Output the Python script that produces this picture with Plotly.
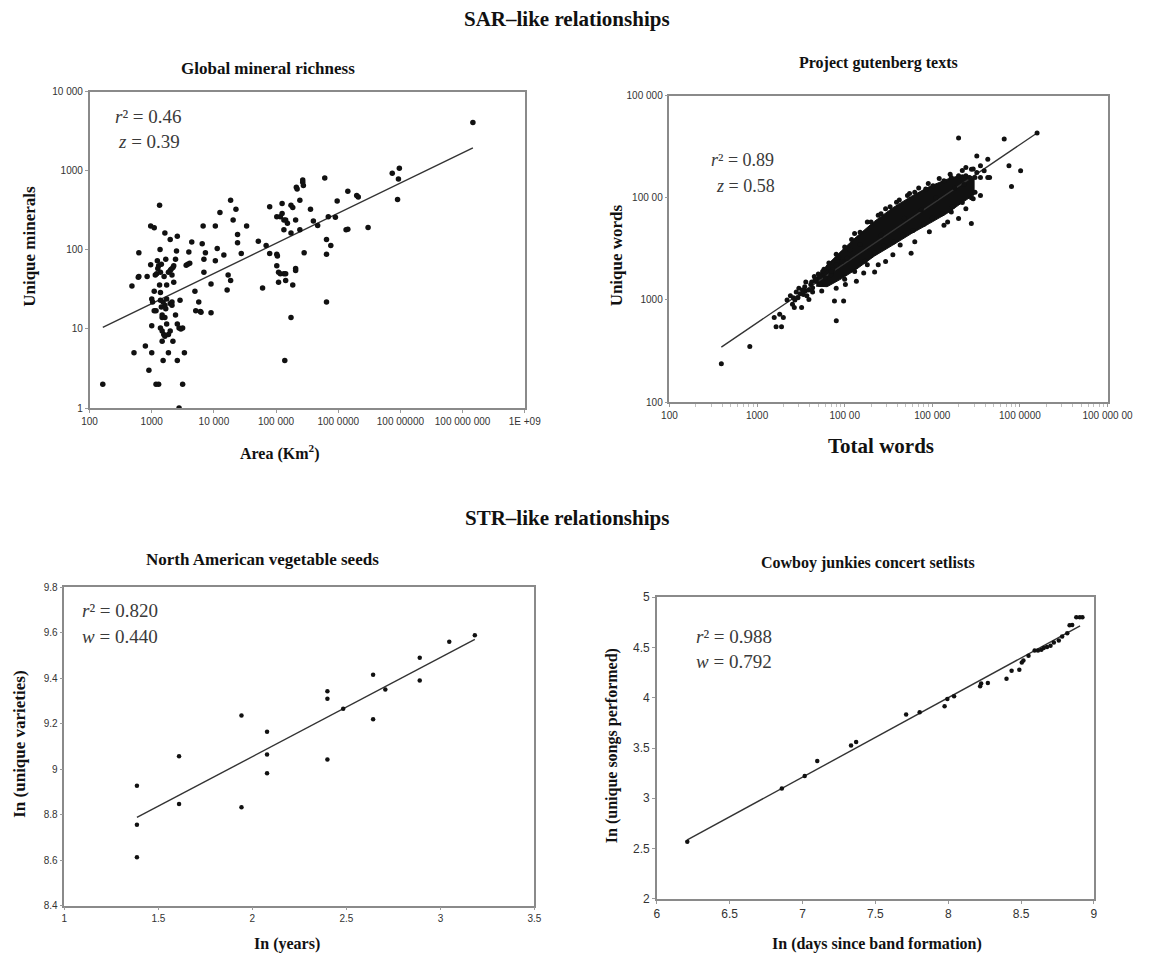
import plotly.graph_objects as go

W, H = 1150, 959

# ---------------- Panel 1: Global mineral richness ----------------
mineral_area = [
    163, 480, 518, 607, 620, 620, 789, 843, 900, 961,
    1096, 961, 1000, 1000, 1000, 1030, 1096, 1096, 1171, 1140,
    1200, 1171, 1290, 1230, 1336, 1360, 1290, 1426, 1336, 1380,
    1426, 1470, 1470, 1380, 1470, 1560, 1626, 1523, 1626, 1626,
    1680, 1680, 1737, 1855, 1981, 1981, 2050, 2190, 2259, 1981,
    2115, 2259, 2190, 2500, 2413, 2576, 2576, 2751, 2938, 2576,
    2751, 2850, 3138, 3350, 3579, 3800, 4082, 3950, 4400, 4950,
    5100, 5700, 6055, 6200, 6480, 6700, 7300, 6906, 6906, 8983,
    8983, 10540, 11300, 10540, 12500, 14450, 16300, 16930, 18560, 18560,
    20360, 22610, 24000, 24000, 27540, 33560, 51790, 60650, 69180, 78890,
    78890, 102600, 105000, 102600, 109600, 117100, 133600, 109600, 102600, 117100,
    125000, 125000, 133600, 133600, 138000, 142600, 142600, 152300, 142600, 173700,
    185500, 173700, 173700, 185500, 206200, 206200, 206200, 211800, 218000, 241300,
    241300, 268300, 268300, 275000, 282700, 357900, 398100, 466600, 606600, 647400,
    647400, 647400, 691800, 758600, 899800, 961000, 1336000, 1426000, 1426000, 1982000,
    2100000, 3020000, 7393000, 8995000, 9300000, 9616000, 146600000, 1250, 1380, 1580,
    1855, 2115, 1380, 1523, 1737, 1626, 1737, 1855, 1981, 1470,
    2115, 2413, 3138,
]
mineral_count = [
    2.0, 35, 5, 45, 46, 92, 6.1, 46, 3.0, 200,
    190, 65, 5, 11, 24, 22, 30, 17, 17, 48,
    50, 2.0, 2.0, 73, 367, 101, 63, 66, 36, 29,
    19, 15, 14, 10.3, 9.4, 8.5, 8.1, 4.0, 163, 20,
    18, 76, 36, 5.0, 135, 55, 57, 60, 63, 21,
    22, 39, 7.0, 97, 76, 149, 11.6, 10.3, 10, 4.0,
    1.0, 23, 2.0, 5.0, 64, 66, 68, 94, 126, 30,
    17, 22, 16.6, 16.3, 120, 200, 92, 76, 52, 37,
    16, 200, 104, 73, 298, 86, 31, 48, 41, 423,
    239, 327, 156, 123, 90, 201, 129, 33, 114, 350,
    90, 88, 84, 63, 52, 50, 50, 39, 263, 263,
    289, 385, 239, 180, 4.0, 41, 50, 217, 239, 367,
    343, 163, 14, 36, 58, 55, 239, 619, 590, 423,
    180, 764, 715, 650, 92, 327, 232, 203, 810, 135,
    88, 22, 263, 114, 258, 415, 180, 182, 553, 488,
    466, 192, 934, 435, 787, 1077, 4083, 58, 52, 46,
    52, 48, 23, 22, 24, 14, 11.6, 8.5, 9.4, 7.0,
    20, 15, 10.3,
]
mineral_fit_x = [163, 146600000]
mineral_fit_y = [10.5, 1944]

# ---------------- Panel 2: Project Gutenberg texts ----------------
words_total = [
    391, 826, 1570, 1648, 1901, 1813, 1995, 2535, 2660, 2930,
    3224, 3381, 3548, 3905, 4100, 4300, 4730, 5210, 5470, 7640,
    9720, 8020, 6950, 7290, 8020, 9260, 10690, 12970, 10190, 13600,
    16480, 21960, 18130, 24160, 29300, 35480, 57300, 42990, 63100, 92600,
    135900, 149600, 199500, 279100, 164800, 241700, 293000, 307300, 354800, 18130,
    24160, 29300, 39060, 52100, 63100, 84140, 101900, 135900, 164800, 199500,
    241700, 266100, 307300, 354800, 429900, 450800, 241700, 293000, 322100, 429900,
    199500, 662200, 750000, 1019000, 801700, 1570000, 354800, 390800, 322100, 2200,
    2400, 2800, 3000, 3600, 2600, 4500, 5000, 3300, 5800, 6600,
    7000, 8500, 11500, 15000, 26000, 48000, 75000, 110000, 180000, 230000,
    8000, 10000, 12000, 15000, 20000, 26000, 33000, 42000, 55000, 70000,
    90000, 120000, 160000, 220000, 280000, 8000, 10000, 13000, 17000, 22000,
    28000, 36000, 46000, 60000, 80000, 100000, 130000, 170000, 220000, 280000,
    2700, 3100, 3500, 3900, 4200, 4600, 5200, 5600, 6000, 6500,
    3700, 4300,
]
words_unique = [
    238, 351, 675, 548, 548, 726, 675, 907, 843, 1054,
    843, 1135, 1222, 1014, 1418, 1316, 1527, 1418, 1222, 977,
    977, 627, 1771, 1982, 2214, 2383, 2568, 4488, 1418, 1527,
    1840, 1880, 2214, 2214, 2383, 2766, 2871, 3459, 3724, 4656,
    5396, 5815, 6264, 5598, 7262, 7826, 9775, 11350, 10530, 5815,
    6745, 7826, 9078, 10530, 11350, 12220, 13160, 14720, 15860, 16450,
    16450, 15860, 15860, 15860, 15860, 15860, 19830, 19110, 25700, 23840,
    38640, 37760, 20560, 18410, 12880, 43150, 20560, 18410, 17710, 1000,
    1100, 1200, 1300, 1500, 1050, 1700, 1800, 1250, 2000, 2300,
    1900, 2600, 3100, 3500, 4300, 6300, 7600, 10000, 12500, 13500,
    2800, 3300, 3900, 4600, 5800, 7000, 8200, 9500, 11000, 12500,
    13800, 15500, 17000, 18500, 19000, 1300, 1600, 1900, 2400, 2900,
    3400, 3700, 4300, 4800, 5500, 6300, 7000, 8200, 9000, 10000,
    1000, 1150, 1350, 1250, 1500, 1600, 1700, 1900, 1650, 2100,
    1100, 1200,
]
# outline of the saturated (fully black) core of the point cloud
cloud_total = [4730, 6310, 9260, 13600, 21960, 35480, 57300, 92600, 149600, 219700, 300000,
               300000, 219700, 149600, 92600, 57300, 35480, 21960, 13600, 9260, 6310, 4730]
cloud_unique = [1644, 2200, 3050, 4150, 5900, 8000, 10300, 12900, 15300, 16800, 16000,
                10700, 9000, 7100, 5600, 4450, 3450, 2700, 2000, 1620, 1350, 1365]
words_fit_x = [391, 1570000]
words_fit_y = [346, 43150]

# ---------------- Panel 3: North American vegetable seeds ----------------
seed_ln_years = [1.386, 1.386, 1.386, 1.61, 1.61, 1.942, 1.942, 2.078, 2.078, 2.078,
                 2.399, 2.399, 2.399, 2.483, 2.642, 2.642, 2.707, 2.89, 2.89, 3.047, 3.183]
seed_ln_var = [8.927, 8.756, 8.613, 9.057, 8.847, 9.237, 8.833, 9.165, 9.065, 8.983,
               9.343, 9.31, 9.043, 9.266, 9.416, 9.22, 9.351, 9.491, 9.39, 9.561, 9.59]
seed_fit_x = [1.386, 3.183]
seed_fit_y = [8.788, 9.571]

# ---------------- Panel 4: Cowboy Junkies setlists ----------------
cj_ln_days = [6.209, 6.858, 7.015, 7.101, 7.333, 7.368, 7.711, 7.804, 7.975, 7.994,
              8.04, 8.219, 8.226, 8.272, 8.4, 8.435, 8.488, 8.505, 8.516, 8.551,
              8.593, 8.616, 8.639, 8.655, 8.678, 8.702, 8.725, 8.759, 8.782, 8.817,
              8.833, 8.851, 8.879, 8.903, 8.921]
cj_ln_songs = [2.568, 3.097, 3.222, 3.371, 3.526, 3.559, 3.834, 3.857, 3.916, 3.989,
               4.015, 4.114, 4.141, 4.147, 4.19, 4.27, 4.28, 4.352, 4.372, 4.418,
               4.471, 4.471, 4.478, 4.494, 4.504, 4.517, 4.55, 4.57, 4.61, 4.643,
               4.722, 4.725, 4.801, 4.801, 4.801]
cj_fit_x = [6.209, 8.905]
cj_fit_y = [2.585, 4.716]

# tick labels
p1_xticks = [100, 1e3, 1e4, 1e5, 1e6, 1e7, 1e8, 1e9]
p1_xtext = ["100", "1000", "10 000", "100 000", "100 0000", "100 00000", "100 000 000", "1E +09"]
p1_yticks = [1, 10, 100, 1000, 10000]
p1_ytext = ["1", "10", "100", "1000", "10 000"]
p2_xticks = [100, 1e3, 1e4, 1e5, 1e6, 1e7]
p2_xtext = ["100", "1000", "100 00", "100 000", "100 0000", "100 000 00"]
p2_yticks = [100, 1000, 10000, 100000]
p2_ytext = ["100", "1000", "100 00", "100 000"]
p3_xticks = [1, 1.5, 2, 2.5, 3, 3.5]
p3_xtext = ["1", "1.5", "2", "2.5", "3", "3.5"]
p3_yticks = [8.4, 8.6, 8.8, 9.0, 9.2, 9.4, 9.6, 9.8]
p3_ytext = ["8.4", "8.6", "8.8", "9", "9.2", "9.4", "9.6", "9.8"]
p4_xticks = [6, 6.5, 7, 7.5, 8, 8.5, 9]
p4_xtext = ["6", "6.5", "7", "7.5", "8", "8.5", "9"]
p4_yticks = [2, 2.5, 3, 3.5, 4, 4.5, 5]
p4_ytext = ["2", "2.5", "3", "3.5", "4", "4.5", "5"]

SERIF = "Liberation Serif, Times New Roman, serif"
SANS = "Liberation Sans, Arial, sans-serif"
INK = "#111111"
LINE = "#333333"

fig = go.Figure()

def pts(x, y, ax, size):
    fig.add_trace(go.Scatter(x=x, y=y, mode="markers", xaxis=ax[0], yaxis=ax[1],
                             marker=dict(color=INK, size=size, line=dict(width=0)),
                             showlegend=False, hoverinfo="skip"))

def fit(x, y, ax):
    fig.add_trace(go.Scatter(x=x, y=y, mode="lines", xaxis=ax[0], yaxis=ax[1],
                             line=dict(color=LINE, width=1.4),
                             showlegend=False, hoverinfo="skip"))

# panel 1
fit(mineral_fit_x, mineral_fit_y, ("x", "y"))
pts(mineral_area, mineral_count, ("x", "y"), 5.5)
# panel 2
fig.add_trace(go.Scatter(x=cloud_total, y=cloud_unique, mode="lines", fill="toself",
                         fillcolor=INK, line=dict(width=1, color=INK),
                         xaxis="x2", yaxis="y2", showlegend=False, hoverinfo="skip"))
fit(words_fit_x, words_fit_y, ("x2", "y2"))
pts(words_total, words_unique, ("x2", "y2"), 5)
# panel 3
fit(seed_fit_x, seed_fit_y, ("x3", "y3"))
pts(seed_ln_years, seed_ln_var, ("x3", "y3"), 4.5)
# panel 4
fit(cj_fit_x, cj_fit_y, ("x4", "y4"))
pts(cj_ln_days, cj_ln_songs, ("x4", "y4"), 4.5)

def hx(a, b):
    return [a / W, b / W]

def vy(top, bot):
    return [1 - bot / H, 1 - top / H]

def axis(domain, tickvals, ticktext, rng, typ="linear", size=10, **kw):
    d = dict(domain=domain, type=typ, range=rng, tickmode="array", tickvals=tickvals,
             ticktext=ticktext, showline=True, mirror=True, linecolor="#8a8a8a",
             linewidth=1.5, showgrid=False, zeroline=False, ticks="outside", ticklen=3,
             tickcolor="#9a9a9a", tickfont=dict(family=SANS, size=size, color="#333"),
             fixedrange=True)
    d.update(kw)
    return d

P1 = (84, 532, 86, 407)
P2 = (681, 1132, 90, 401)
P3 = (58, 542, 589, 912)
P4 = (668, 1118, 599, 905)

minor_p2 = [k * 10 ** d for d in range(2, 7) for k in range(2, 10)]

fig.update_layout(
    width=W, height=H, margin=dict(l=0, r=0, t=0, b=0),
    paper_bgcolor="white", plot_bgcolor="white", showlegend=False,
    xaxis=axis(hx(P1[0], P1[1]), p1_xticks, p1_xtext, [2, 9], "log", anchor="y"),
    yaxis=axis(vy(P1[2], P1[3]), p1_yticks, p1_ytext, [0, 4], "log", anchor="x"),
    xaxis2=axis(hx(P2[0], P2[1]), p2_xticks, p2_xtext, [2, 7], "log", anchor="y2",
                minor=dict(tickvals=minor_p2, ticks="outside", ticklen=3, tickcolor="#c0c0c0")),
    yaxis2=axis(vy(P2[2], P2[3]), p2_yticks, p2_ytext, [2, 5], "log", anchor="x2"),
    xaxis3=axis(hx(P3[0], P3[1]), p3_xticks, p3_xtext, [1, 3.5], anchor="y3"),
    yaxis3=axis(vy(P3[2], P3[3]), p3_yticks, p3_ytext, [8.4, 9.8], anchor="x3"),
    xaxis4=axis(hx(P4[0], P4[1]), p4_xticks, p4_xtext, [6, 9], anchor="y4", size=12),
    yaxis4=axis(vy(P4[2], P4[3]), p4_yticks, p4_ytext, [2, 5], anchor="x4", size=12),
)

def note(text, x, y, size, bold=False, family=SERIF, color="#111",
         angle=0, xanchor="center"):
    t = f"<b>{text}</b>" if bold else text
    fig.add_annotation(text=t, x=x / W, y=1 - y / H, xref="paper", yref="paper",
                       showarrow=False, textangle=angle, xanchor=xanchor, yanchor="middle",
                       font=dict(family=family, size=size, color=color))

# super titles
note("SAR–like relationships", 575, 12, 21, bold=True)
note("STR–like relationships", 575, 519, 21, bold=True)
# panel titles
note("Global mineral richness", 268, 62, 17, bold=True)
note("Project gutenberg texts", 896, 57, 16, bold=True)
note("North American vegetable seeds", 262, 561, 17, bold=True)
note("Cowboy junkies concert setlists", 885, 564, 16, bold=True)
# axis titles
note("Unique minerals", 22, 243, 17, bold=True, angle=-90)
note("Area (Km<sup>2</sup>)", 280, 452, 16, bold=True)
note("Unique words", 626, 252, 17, bold=True, angle=-90)
note("Total words", 899, 446, 21, bold=True)
note("In (unique varieties)", 11, 748, 17, bold=True, angle=-90)
note("In (years)", 287, 951, 16, bold=True)
note("In (days since band formation)", 895, 951, 16, bold=True)
note("In (unique songs performed)", 622, 750, 16, bold=True, angle=-90)
# statistics
STAT = "#3a3a3a"
note("<i>r</i>² = 0.46", 108, 111, 19, color=STAT, xanchor="left")
note("<i>z</i> = 0.39", 111, 136, 19, color=STAT, xanchor="left")
note("<i>r</i>² = 0.89", 722, 155, 18, color=STAT, xanchor="left")
note("<i>z</i> = 0.58", 727, 182, 18, color=STAT, xanchor="left")
note("<i>r</i>² = 0.820", 74, 612, 19, color=STAT, xanchor="left")
note("<i>w</i> = 0.440", 74, 639, 19, color=STAT, xanchor="left")
note("<i>r</i>² = 0.988", 706, 639, 19, color=STAT, xanchor="left")
note("<i>w</i> = 0.792", 706, 664, 19, color=STAT, xanchor="left")

fig.write_html("out.html", config={"displayModeBar": False},
               post_script="document.body.style.margin='0px';")
